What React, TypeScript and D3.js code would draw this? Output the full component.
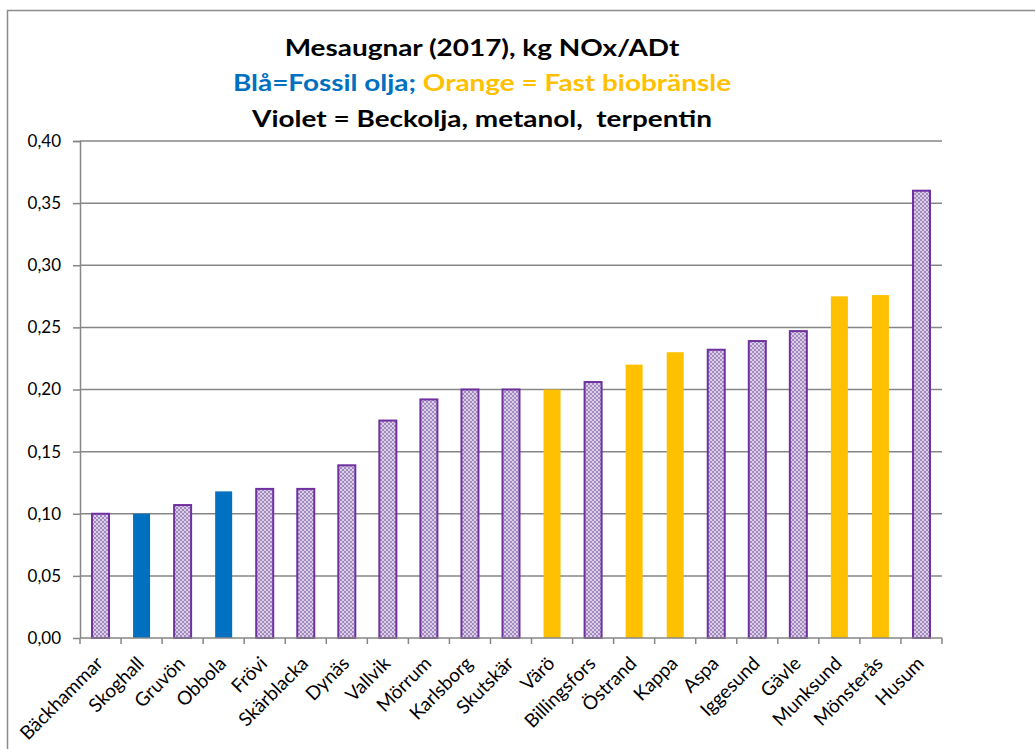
import React from 'react';
import * as d3 from 'd3';

const mills = ['Bäckhammar', 'Skoghall', 'Gruvön', 'Obbola', 'Frövi', 'Skärblacka', 'Dynäs', 'Vallvik', 'Mörrum', 'Karlsborg', 'Skutskär', 'Värö', 'Billingsfors', 'Östrand', 'Kappa', 'Aspa', 'Iggesund', 'Gävle', 'Munksund', 'Mönsterås', 'Husum'];
const noxValues = [0.100, 0.100, 0.107, 0.118, 0.120, 0.120, 0.139, 0.175, 0.192, 0.200, 0.200, 0.200, 0.206, 0.220, 0.230, 0.232, 0.239, 0.247, 0.275, 0.276, 0.360];
// F = fossil olja, B = fast biobränsle, V = beckolja/metanol/terpentin
const fuelType = ['V', 'F', 'V', 'F', 'V', 'V', 'V', 'V', 'V', 'V', 'V', 'B', 'V', 'B', 'B', 'V', 'V', 'V', 'B', 'B', 'V'];
const yTicks = [0, 0.05, 0.10, 0.15, 0.20, 0.25, 0.30, 0.35, 0.40];

const App = () => {
    const svgRef = React.useRef<SVGSVGElement>(null);

    const W = 1035, H = 749;
    const margin = { top: 141, right: 93, bottom: 111, left: 80 };
    const width = W - margin.left - margin.right;
    const height = H - margin.top - margin.bottom;
    const font = 'Lato, Calibri, sans-serif';
    const stretch = 1.27; // the source picture is wider than it is tall

    React.useEffect(() => {
        const svgEl = d3.select(svgRef.current);
        svgEl.selectAll('*').remove();

        const defs = svgEl.append('defs');
        const pat = defs.append('pattern')
            .attr('id', 'violetChecks')
            .attr('width', 4).attr('height', 4)
            .attr('patternUnits', 'userSpaceOnUse');
        pat.append('rect').attr('width', 4).attr('height', 4).attr('fill', '#a38bc2');
        pat.append('rect').attr('width', 2).attr('height', 2).attr('fill', '#dad0e6');
        pat.append('rect').attr('x', 2).attr('y', 2).attr('width', 2).attr('height', 2).attr('fill', '#dad0e6');

        // outer chart border
        svgEl.append('path')
            .attr('d', `M7.5,${H + 5} V10.5 H${W + 5}`)
            .attr('fill', 'none')
            .attr('stroke', '#8c8c8c')
            .attr('stroke-width', 1.5);

        // title
        const titles = [
            { parts: [{ t: 'Mesaugnar (2017), kg NOx/ADt', c: '#000' }], y: 56 },
            { parts: [{ t: 'Blå=Fossil olja; ', c: '#0070C0' }, { t: 'Orange = Fast biobränsle', c: '#FFC000' }], y: 91 },
            { parts: [{ t: 'Violet = Beckolja, metanol,  terpentin', c: '#000' }], y: 127 },
        ];
        titles.forEach((line) => {
            const txt = svgEl.append('g')
                .attr('transform', `translate(482,${line.y}) scale(${stretch},1)`)
                .append('text')
                .attr('text-anchor', 'middle')
                .style('font-family', font)
                .style('font-weight', 'bold')
                .style('font-size', '22px')
                .style('white-space', 'pre');
            line.parts.forEach((p) => {
                txt.append('tspan').attr('fill', p.c).text(p.t);
            });
        });

        const svg = svgEl.append('g')
            .attr('transform', `translate(${margin.left},${margin.top})`);

        const x = d3.scaleBand()
            .domain(mills)
            .range([0, width]);

        const y = d3.scaleLinear()
            .domain([0, 0.4])
            .range([height, 0]);

        // gridlines
        svg.append('g')
            .selectAll('line')
            .data(yTicks.slice(1))
            .enter()
            .append('line')
            .attr('x1', 0).attr('x2', width)
            .attr('y1', (d) => y(d)).attr('y2', (d) => y(d))
            .attr('stroke', '#868686')
            .attr('stroke-width', 1.5);

        // Y Axis
        const yAxis = svg.append('g')
            .call(d3.axisLeft(y).tickValues(yTicks).tickSize(7).tickPadding(12)
                .tickFormat((d) => d3.format('.2f')(d as number).replace('.', ',')));
        yAxis.selectAll('line, path').attr('stroke', '#868686').attr('stroke-width', 1.5);
        yAxis.select('.domain').attr('d', `M-7,0.5H0.5V${height}`);
        yAxis.selectAll('text')
            .style('font-family', font)
            .style('font-size', '17px')
            .attr('fill', '#000');

        // bars
        const bw = 17;
        svg.append('g')
            .selectAll('rect')
            .data(mills)
            .enter()
            .append('rect')
            .attr('x', (d) => x(d)! + x.bandwidth() / 2 - bw / 2)
            .attr('y', (d, i) => y(noxValues[i]))
            .attr('width', bw)
            .attr('height', (d, i) => height - y(noxValues[i]))
            .attr('fill', (d, i) => fuelType[i] === 'F' ? '#0070C0' : fuelType[i] === 'B' ? '#FFC000' : 'url(#violetChecks)')
            .attr('stroke', (d, i) => fuelType[i] === 'V' ? '#7030A0' : 'none')
            .attr('stroke-width', 2);

        // X Axis
        const xAxis = svg.append('g')
            .attr('transform', `translate(0,${height})`)
            .call(d3.axisBottom(x).tickSize(0).tickPadding(0));
        xAxis.select('.domain').attr('stroke', '#868686').attr('stroke-width', 1.5).attr('d', `M0,0H${width}`);
        xAxis.append('g')
            .selectAll('line')
            .data(d3.range(mills.length + 1))
            .enter()
            .append('line')
            .attr('x1', (d) => d * x.step()).attr('x2', (d) => d * x.step())
            .attr('y1', 0).attr('y2', 6)
            .attr('stroke', '#868686')
            .attr('stroke-width', 1.5);
        xAxis.selectAll('.tick text')
            .style('font-family', font)
            .style('font-size', '19px')
            .attr('fill', '#000')
            .attr('text-anchor', 'end')
            .attr('y', 0)
            .attr('dy', '0.35em')
            .attr('transform', 'translate(-1,22) rotate(-45)');
    // eslint-disable-next-line react-hooks/exhaustive-deps
    }, []);

    return <svg ref={svgRef} width={W} height={H} style={{ position: 'absolute', left: 0, top: 0 }} />;
};

export default App;
